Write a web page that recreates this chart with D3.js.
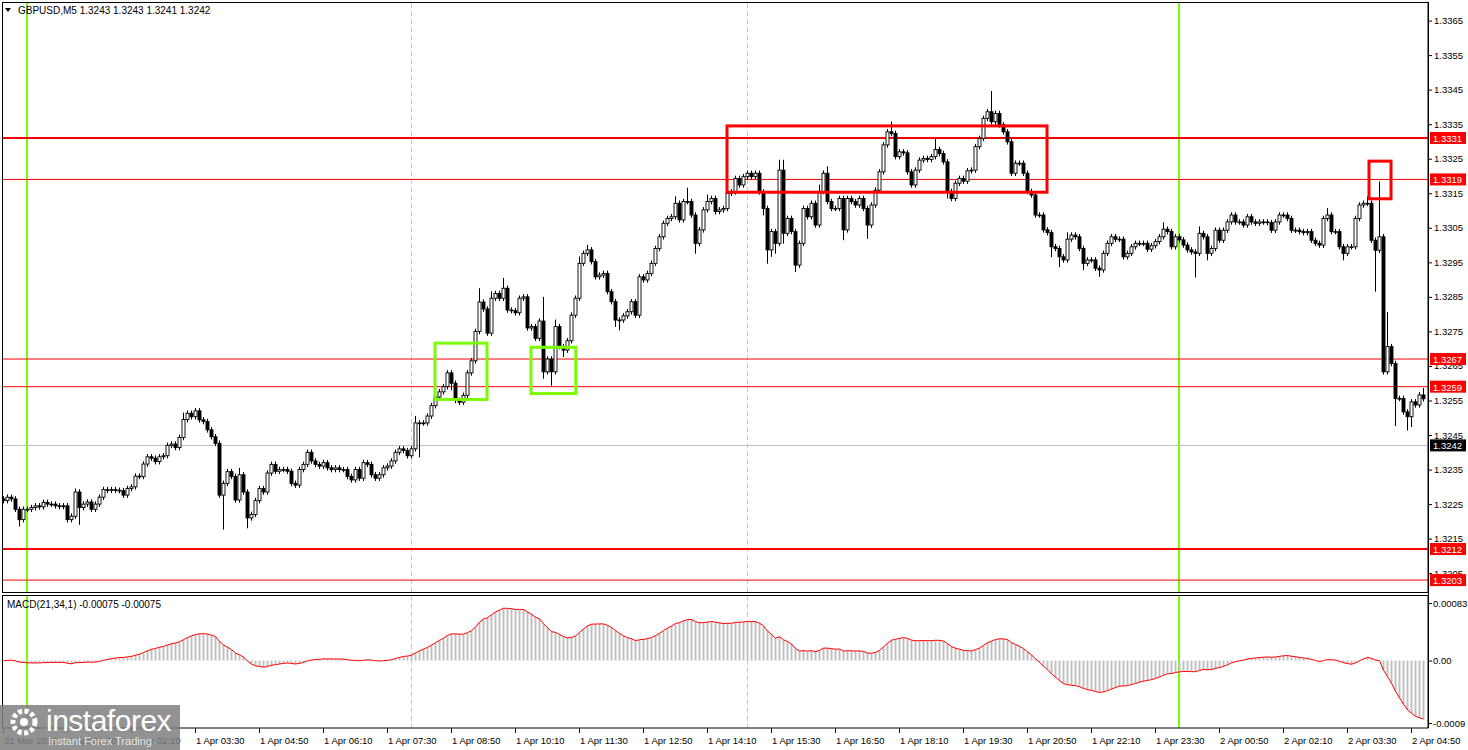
<!DOCTYPE html>
<html><head><meta charset="utf-8">
<script src="https://cdn.jsdelivr.net/npm/d3@7"></script>
<style>
body{margin:0;background:#fff;}
svg text{font-family:"Liberation Sans",Arial,sans-serif;}
</style></head>
<body><svg id="chart" width="1468" height="750"></svg>
<script>
// closes, pips above 1.3200, one per 5-minute bar starting 31 Mar 23:30
const closes = [
26,27,26.5,23.5,20.5,23.5,23.5,24,24.5,24.2, 25.5,25,25,24.5,24.3,24.5,20.5,21.5,28.5,24,
25,25.6,23.5,25,27,29.2,29,29.2,29,28.9, 27.6,29.5,30,33.1,33,36.6,38.7,38.3,37.3,38.7,
39,42,42.4,41.4,44.3,49.5,51.3,50.3,52,49.4, 48.9,46.5,44.5,42.6,27.6,31,34.4,33,26.2,33.5,
28.5,21,22,26,29.5,28.5,34,36.5,34.5,35, 35,34.5,31,30.5,35,36.5,40,37.5,36.5,36,
37,35.5,35,35.5,35,35,33,32,35,32.5, 37,36.5,33.5,32.5,33.5,35.5,36,37.5,40,41,
40.5,39,41,48.5,48.5,48.5,50.5,53.5,56,57.5, 59,63,60,55,54.5,56.5,63,66.5,75,83.5,
81.5,74.5,84.6,86,84.6,87.5,81.2,81,80.4,84.6, 85,76,76.4,73,78,63.3,67,63.3,76.4,70.6,
69.6,72.3,79.7,84.6,94.7,97.6,98.6,95.2,90.8,91.3, 91.8,86.5,83.6,78.3,78.3,79.5,80.7,83.6,79.7,90.8,
89.9,91.8,94.7,99,102.4,106.3,107.7,108.2,112.1,107.3, 112.6,112.6,108.7,100.5,104.4,110.2,112.6,113.5,109.7,110.2,
110.6,115,115.4,119.3,117.4,119.8,120.8,119.8,120.8,115.4, 110.6,98.6,103.9,100.5,121.7,103.4,107.7,103.9,94.2,100.5,
110.6,108.2,112.1,105.8,115.5,120.8,112.6,110.6,110.6,113.5, 104.4,113.5,112.6,111.6,113.5,110.6,105.8,111.6,115.9,121.2,
129,132.8,132.3,125.6,127,126.7,121.2,117.4,121.7,124.6, 125.1,124.8,125.6,127.7,126.5,124.1,115.5,113.5,117.9,119.3,
118.5,121.5,121.7,128.5,130.9,136.7,138.6,135.7,138.1,134.8, 132.8,129.9,120.8,123.7,123.7,120.8,115.5,114.5,108.7,108.7,
104.4,103.6,99.5,99,96.6,95.7,101.7,102.9,102.4,99, 94.7,95.7,95.7,93.3,92.8,97.6,100.5,102.4,101.7,101.7,
96.6,97.6,99.5,100.5,100.5,100.5,98.8,99.8,101,102.4, 104.6,103.9,99.5,102.4,101.5,100,98.6,98,97.6,103.4,
102.4,97.6,99,104.3,101.4,104.3,106.7,108.7,106.7,106.7, 105.8,108.2,106.7,106.3,106.7,106.7,106.5,104.3,106.7,108.7,
108.7,107.7,104.3,104.3,103.9,103.6,103.9,101.4,100.5,100, 107.7,108.7,103.9,103.9,99.5,97.6,99.5,99.5,107.7,111.6,
112.1,112.1,101.4,98.5,102.4,63.3,70.6,65.7,55.6,55.6, 51.7,50.3,54.6,53.7,56.6,55.5
];
const firstOpen = 26.5;
// notable wicks [bar, pips]
const upperWicks = [[18,1],[45,2],[59,2],[103,2],[119,4],[122,2],[125,3],[135,7],[138,2],[144,2],[146,1.5],
  [168,2],[171,4],[176,2],[194,3],[195,3],[204,2],[206,2],[222,3],[233,3],[247,6],[266,2],[290,2],[299,2],
  [331,2],[341,2],[344,16],[346,10],[355,2]];
const lowerWicks = [[4,2],[19,5],[55,10],[61,3],[104,10],[112,2],[135,2],[137,4],[140,2],[153,2],[154,3],
  [173,3],[190,2],[191,4],[192,2],[193,3],[195,3],[198,2],[210,3],[216,4],[236,2],[262,3],[264,3],[270,2],
  [274,2],[298,7],[301,2],[335,2],[343,12],[348,8],[351,4],[352,3]];
const timeLabels = ["31 Mar 2025","1 Apr 00:50","1 Apr 02:10","1 Apr 03:30","1 Apr 04:50","1 Apr 06:10",
  "1 Apr 07:30","1 Apr 08:50","1 Apr 10:10","1 Apr 11:30","1 Apr 12:50","1 Apr 14:10","1 Apr 15:30",
  "1 Apr 16:50","1 Apr 18:10","1 Apr 19:30","1 Apr 20:50","1 Apr 22:10","1 Apr 23:30","2 Apr 00:50",
  "2 Apr 02:10","2 Apr 03:30","2 Apr 04:50"];
const priceTicks = [1.3205,1.3215,1.3225,1.3235,1.3245,1.3255,1.3265,1.3275,1.3285,1.3295,1.3305,1.3315,1.3325,1.3335,1.3345,1.3355,1.3365];
const levels = [
  {p:1.3331,w:2},{p:1.3319,w:1},{p:1.3267,w:1},{p:1.3259,w:1},{p:1.3212,w:2},{p:1.3203,w:1}];
const bidPrice = 1.3242;
const dayStarts = [6, 294];        // bar index of 00:00
const sessionLines = [102, 186];   // 08:00, 15:00
const redBoxes = [{k0:181,k1:261,p0:1.33345,p1:1.33153},{k0:341.5,k1:347,p0:1.33243,p1:1.33134}];
const greenBoxes = [{k0:108,k1:121,p0:1.32716,p1:1.32553},{k0:132,k1:143.2,p0:1.32704,p1:1.3257}];
const macdTicks = [0.00083, 0, -0.0009];
const macdTickLabels = ["0.00083","0.00","-0.0009"];

const svg = d3.select("#chart");
const axisX = 1428;
const x = d3.scaleLinear().domain([0,1]).range([3,7]);
const y = d3.scaleLinear().domain([1.3212,1.3331]).range([549,138]);
const yM = d3.scaleLinear().domain([-0.0009,0.00083]).range([723,603]);

const upMap = new Map(upperWicks), dnMap = new Map(lowerWicks);
const bars = closes.map((c,i)=>{
  const o = i===0 ? firstOpen : closes[i-1];
  const hi = Math.max(o,c) + (upMap.get(i) ?? 0.8);
  const lo = Math.min(o,c) - (dnMap.get(i) ?? 0.8);
  const f = v => 1.32 + v/10000;
  return {i, o:f(o), c:f(c), h:f(hi), l:f(lo)};
});

// MACD(21,34,1)
const ema = (n) => { const a = 2/(n+1); let e = bars[0].c; return bars.map(b => (e = e + a*(b.c-e))); };
const e21 = ema(21), e34 = ema(34);
const macd = bars.map((b,i)=> e21[i]-e34[i]);

const defs = svg.append("defs");
defs.append("clipPath").attr("id","mainclip").append("rect")
  .attr("x",2).attr("y",3).attr("width",axisX-2).attr("height",589);
defs.append("clipPath").attr("id","macdclip").append("rect")
  .attr("x",2).attr("y",596).attr("width",axisX-2).attr("height",132);

// vertical lines
[[3,592],[596,728]].forEach(([t,b])=>{
  svg.append("g").selectAll("line").data(dayStarts).join("line")
    .attr("x1",d=>x(d)).attr("x2",d=>x(d)).attr("y1",t).attr("y2",b)
    .attr("stroke","#7cfc00").attr("stroke-width",2);
  svg.append("g").selectAll("line").data(sessionLines).join("line")
    .attr("x1",d=>x(d)+0.5).attr("x2",d=>x(d)+0.5).attr("y1",t).attr("y2",b)
    .attr("stroke","#b8e08a").attr("stroke-dasharray","5,3");
});

const main = svg.append("g").attr("clip-path","url(#mainclip)");
main.append("line").attr("x1",2).attr("x2",axisX).attr("y1",Math.round(y(bidPrice))+0.5).attr("y2",Math.round(y(bidPrice))+0.5)
  .attr("stroke","#c0c0c0");
main.selectAll("line.lvl").data(levels).join("line").attr("class","lvl")
  .attr("x1",2).attr("x2",axisX).attr("y1",d=>y(d.p)).attr("y2",d=>y(d.p))
  .attr("stroke","#ff0000").attr("stroke-width",d=>d.w);

// candles
main.selectAll("line.wick").data(bars).join("line").attr("class","wick")
  .attr("x1",d=>x(d.i)+0.5).attr("x2",d=>x(d.i)+0.5).attr("y1",d=>y(d.h)).attr("y2",d=>y(d.l))
  .attr("stroke","#000");
main.selectAll("rect.body").data(bars).join("rect").attr("class","body")
  .attr("x",d=>x(d.i)-1).attr("width",3)
  .attr("y",d=>y(Math.max(d.o,d.c)))
  .attr("height",d=>Math.max(0.8, Math.abs(y(d.o)-y(d.c))))
  .attr("fill",d=>d.c>=d.o ? "#fff" : "#000").attr("stroke","#000").attr("stroke-width",0.9);

// boxes
main.selectAll("rect.rb").data(redBoxes).join("rect").attr("class","rb")
  .attr("x",d=>x(d.k0)).attr("width",d=>x(d.k1)-x(d.k0)).attr("y",d=>y(d.p0)).attr("height",d=>y(d.p1)-y(d.p0))
  .attr("fill","none").attr("stroke","#ff0000").attr("stroke-width",3);
main.selectAll("rect.gb").data(greenBoxes).join("rect").attr("class","gb")
  .attr("x",d=>x(d.k0)).attr("width",d=>x(d.k1)-x(d.k0)).attr("y",d=>y(d.p0)).attr("height",d=>y(d.p1)-y(d.p0))
  .attr("fill","none").attr("stroke","#7cfc00").attr("stroke-width",3);

// MACD pane
const mg = svg.append("g").attr("clip-path","url(#macdclip)");
mg.selectAll("line.h").data(macd).join("line").attr("class","h")
  .attr("x1",(d,i)=>x(i)+0.5).attr("x2",(d,i)=>x(i)+0.5).attr("y1",yM(0)).attr("y2",d=>yM(d))
  .attr("stroke","#c0c0c0").attr("stroke-width",2);
mg.append("path").datum(macd)
  .attr("d",d3.line().x((d,i)=>x(i)+0.5).y(d=>yM(d)))
  .attr("fill","none").attr("stroke","#ff0000").attr("stroke-width",1);

// frames
svg.append("rect").attr("x",2.5).attr("y",2.5).attr("width",axisX-2.5).attr("height",590).attr("fill","none").attr("stroke","#000");
svg.append("rect").attr("x",2.5).attr("y",595.5).attr("width",axisX-2.5).attr("height",132.5).attr("fill","none").attr("stroke","#000");

// price axis
const pa = svg.append("g").attr("transform",`translate(${axisX},0)`)
  .call(d3.axisRight(y).tickValues(priceTicks).tickFormat(d3.format(".4f")).tickSize(4).tickSizeOuter(0));
pa.select(".domain").remove();
pa.selectAll("text").attr("font-size",9.5).attr("x",6);

const lab = svg.append("g");
const tagData = levels.map(d=>({p:d.p,fill:"#ff0000"})).concat([{p:bidPrice,fill:"#000"}]);
lab.selectAll("rect").data(tagData).join("rect")
  .attr("x",axisX+2).attr("width",36).attr("y",d=>y(d.p)-6).attr("height",12).attr("fill",d=>d.fill);
lab.selectAll("text").data(tagData).join("text")
  .attr("x",axisX+5).attr("y",d=>y(d.p)+4).attr("fill","#fff").attr("font-size",9.5)
  .text(d=>d3.format(".4f")(d.p));

const ma = svg.append("g").attr("transform",`translate(${axisX},0)`)
  .call(d3.axisRight(yM).tickValues(macdTicks).tickFormat((d,i)=>macdTickLabels[i]).tickSize(4).tickSizeOuter(0));
ma.select(".domain").remove();
ma.selectAll("text").attr("font-size",9.5).attr("x",5);

svg.append("line").attr("x1",axisX+0.5).attr("x2",axisX+0.5).attr("y1",2).attr("y2",728).attr("stroke","#000");

// time axis
const tg = svg.append("g");
const tk = timeLabels.map((t,j)=>({t,k:j*16}));
tg.selectAll("line").data(tk).join("line")
  .attr("x1",d=>x(d.k)+0.5).attr("x2",d=>x(d.k)+0.5).attr("y1",728).attr("y2",733).attr("stroke","#000");
tg.selectAll("text").data(tk).join("text")
  .attr("x",d=>x(d.k)+1).attr("y",744).attr("font-size",9.5).text(d=>d.t);

// titles
svg.append("path").attr("d","M5,8 L11,8 L8,12 Z").attr("fill","#000");
svg.append("text").attr("x",18).attr("y",14).attr("font-size",10).text("GBPUSD,M5  1.3243 1.3243 1.3241 1.3242");
svg.append("text").attr("x",7).attr("y",608).attr("font-size",10).text("MACD(21,34,1) -0.00075 -0.00075");

// watermark
const wm = svg.append("g");
wm.append("rect").attr("x",0).attr("y",705).attr("width",180).attr("height",45).attr("fill","#7f7f7f").attr("opacity",0.85);
wm.append("circle").attr("cx",24).attr("cy",722).attr("r",11).attr("fill","none").attr("stroke","#fff").attr("stroke-width",5).attr("stroke-dasharray","4,2.5");
wm.append("circle").attr("cx",24).attr("cy",722).attr("r",4).attr("fill","#fff");
wm.append("text").attr("x",46).attr("y",731).attr("font-size",30).attr("fill","#fff").attr("letter-spacing",-0.5).text("instaforex");
wm.append("text").attr("x",48).attr("y",745).attr("font-size",11).attr("fill","#e6e6e6").text("Instant Forex Trading");
</script></body></html>
